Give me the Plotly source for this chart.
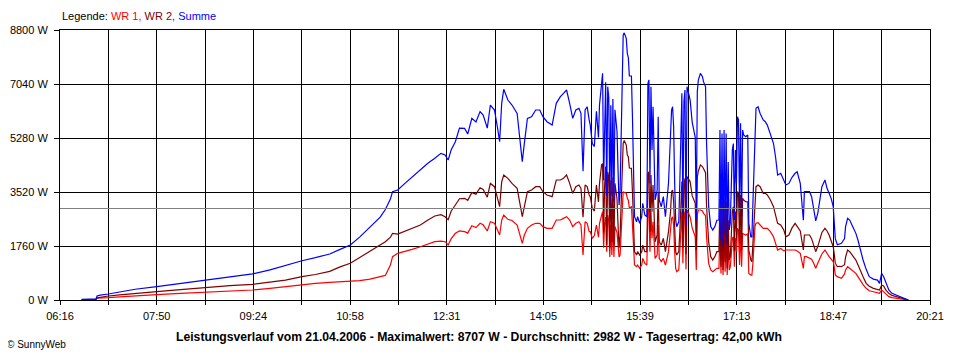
import plotly.graph_objects as go

# ---- data (minutes after midnight, power in W) ----
minutes = [
    397, 405, 411, 412, 415, 423, 434, 449, 470, 493, 517, 541, 563, 580, 595, 611, 624, 638,
    648, 658, 667, 677, 687, 692, 697, 699, 704, 711, 718, 726, 733, 740, 746, 750, 753, 756,
    760, 764, 769, 772, 776, 780, 784, 787, 791, 794, 798, 801, 803, 805, 807, 811, 815, 820,
    823, 825, 827, 830, 834, 838, 842, 845, 849, 854, 858, 862, 865, 868, 871, 874, 877, 880,
    882, 884, 886, 888, 890,
    891, 893, 895, 897, 899, 900, 902, 903, 904, 905, 906, 907, 908, 909, 910, 911, 912, 913,
    914, 915, 917, 918, 919, 920, 921, 922, 923, 924, 926, 927, 928, 929, 931, 932, 933, 934,
    936, 937, 939, 941, 942, 944, 946, 947, 948, 949, 950, 951, 952, 953, 954, 956, 957, 958,
    960, 962, 964, 967, 969, 970, 971, 972, 973, 974, 975, 977, 978, 979, 980, 981, 982, 983,
    984, 985, 988, 990, 991, 993, 994, 995, 996, 998, 1000, 1001, 1003, 1004, 1006, 1008, 1010,
    1012, 1014, 1016, 1017, 1018, 1019, 1020, 1021, 1022, 1023, 1024, 1025, 1026, 1027, 1028,
    1029, 1030, 1031, 1032, 1033, 1034, 1035, 1036, 1037, 1038, 1039, 1040, 1042, 1044, 1045,
    1047, 1048, 1049, 1051, 1052, 1054, 1056, 1059, 1061, 1063, 1066, 1069, 1071, 1073, 1076,
    1079, 1081, 1084, 1087, 1090, 1092,
    1095, 1098, 1099, 1101, 1103, 1104, 1106, 1108, 1110, 1112, 1114, 1116, 1119, 1121, 1123,
    1125, 1127, 1128, 1129, 1131, 1133, 1135, 1138, 1139, 1141, 1143, 1146, 1149, 1151, 1153,
    1156, 1159, 1162, 1166, 1170, 1172, 1174, 1176, 1178, 1181, 1184, 1188, 1192, 1196, 1200,
]

summe = [
    20, 30, 40, 130, 160, 195, 260, 350, 435, 540, 650, 760, 850, 980, 1130, 1280, 1380, 1500,
    1650, 1792, 2050, 2370, 2700, 2950, 3300, 3530, 3585, 3800, 4000, 4237, 4450, 4617, 4780, 4726, 4563, 4900,
    5160, 5600, 5594, 5410, 5920, 5800, 6140, 6030, 5600, 6355, 6192, 5600, 5160, 6410, 6866, 6518, 6355, 6083,
    5105, 4508, 5105, 5920, 5970, 6192, 6192, 5975, 5812, 5703, 6410, 6627, 6736, 6844, 6410, 5920, 6192, 6246,
    6083, 4200, 6192, 6300, 5866,
    5703, 5100, 5000, 6150, 5300, 6355, 7200, 7388, 3900, 6300, 7100, 3400, 6950, 6600, 3100, 6350, 3400, 6550,
    3200, 6200, 5500, 4250, 3100, 3560, 5540, 7820, 8630, 8707, 8530, 8040, 7900, 7300, 7300, 5970, 4450, 2715,
    2550, 2715, 2500, 2715, 3150, 2770, 2715, 7050, 7170, 3800, 6950, 4890, 6300, 4230, 3260, 3580, 5970, 3260,
    3040, 3370, 2715, 3800, 5100, 6190, 6300, 5650, 3800, 2607, 2390, 2550, 3800, 5100, 6736, 2800, 6465, 6845,
    2400, 6950, 6520, 5800, 5600, 5300, 2600, 6800, 7170, 7388, 7280, 7115, 6950, 5100, 3050, 2390, 2281,
    2390, 2600, 2607, 5540, 1950, 5430, 1740, 5540, 2170, 5430, 1846, 4500, 2281, 2500, 3585,
    4889, 5100, 2607, 4889, 3800, 5975, 5870, 2933, 5760, 2716, 5540, 5380, 5320, 5380, 2500,
    2060, 2060, 3150, 5760, 6247, 6300, 6080, 5870, 5810, 5700, 5430, 5100, 4660, 4074, 4130,
    3900, 3748, 3800, 4000, 4130, 4180,
    3800, 2600, 3530, 3530, 3530, 3530, 3368, 3000, 2580, 2826, 3250, 3693, 3911, 3640, 3477,
    3314, 3041, 2607, 2000, 1800, 1820, 1850, 2000, 2390, 2660, 2607, 2390, 2172, 1955, 1690,
    1303, 1000, 760, 680, 650, 543, 868, 760, 597, 326, 217, 163, 110, 54, 0,
]

wr2 = [
    10, 15, 20, 70, 90, 130, 170, 220, 270, 340, 414, 470, 510, 580, 650, 760, 830, 935,
    1080, 1196, 1380, 1580, 1800, 1900, 2050, 2173, 2150, 2250, 2330, 2444, 2600, 2738, 2780, 2715, 2620, 2900,
    3096, 3300, 3314, 3250, 3500, 3450, 3660, 3600, 3350, 3800, 3694, 3300, 3041, 3850, 4074, 3965, 3800, 3640,
    3150, 2715, 3041, 3530, 3585, 3694, 3694, 3530, 3422, 3368, 3911, 3911, 3965, 4074, 3800, 3477, 3694, 3748,
    3640, 2700, 3750, 3694, 3422,
    3368, 2988, 2900, 3750, 3200, 3800, 4400, 4450, 2200, 3750, 4350, 1800, 4180, 4000, 1700, 3900, 1900, 4000,
    1800, 3800, 3300, 2444, 1700, 2100, 3314, 4617, 5105, 5200, 5050, 4726, 4670, 4300, 4290, 3530, 2660, 1575,
    1466, 1575, 1466, 1575, 1790, 1575, 1575, 4100, 4180, 2227, 4074, 2880, 3750, 2444, 1900, 2118, 3530, 1900,
    1790, 2010, 1575, 2227, 2880, 3530, 3585, 3204, 2227, 1575, 1466, 1575, 2227, 2880, 3860, 1700, 3750, 3965,
    1500, 4020, 3860, 3400, 3300, 3150, 1629, 4000, 4200, 4400, 4350, 4290, 4150, 3050, 1900, 1412, 1303,
    1412, 1575, 1575, 3300, 1086, 3200, 977, 3300, 1250, 3204, 1032, 2600, 1303, 1412, 2100,
    2880, 3041, 1600, 2880, 2227, 3530, 3477, 1846, 3420, 1629, 3314, 3260, 3204, 3200, 1629,
    1303, 1250, 1846, 3420, 3694, 3748, 3694, 3477, 3477, 3422, 3260, 3041, 2716, 2500, 2444,
    2280, 2060, 2118, 2350, 2500, 2400,
    2250, 1629, 2118, 2118, 2118, 2118, 2000, 1800, 1575, 1750, 1955, 2200, 2336, 2250, 2118,
    1950, 1737, 1500, 1200, 1086, 1100, 1086, 1150, 1400, 1629, 1575, 1450, 1303, 1150, 977,
    760, 543, 450, 380, 350, 326, 480, 456, 330, 217, 150, 110, 70, 33, 0,
]

wr1 = [
    10, 15, 20, 60, 70, 75, 100, 140, 175, 215, 250, 290, 326, 380, 440, 480, 540, 577,
    590, 597, 630, 680, 750, 800, 1150, 1411, 1520, 1580, 1650, 1737, 1830, 1900, 1920, 1900, 1792, 2000,
    2173, 2250, 2227, 2180, 2420, 2360, 2500, 2450, 2250, 2553, 2500, 2300, 2118, 2600, 2770, 2630, 2590, 2444,
    2118, 1846, 2118, 2336, 2444, 2500, 2500, 2390, 2336, 2336, 2607, 2607, 2660, 2715, 2607, 2390, 2500, 2553,
    2444, 1470, 2553, 2500, 2227,
    2227, 2010, 2100, 2444, 2050, 2500, 2770, 2880, 1700, 2500, 2700, 1575, 2770, 2600, 1400, 2450, 1466, 2550,
    1400, 2400, 2200, 1790, 1400, 1466, 2227, 3204, 3530, 3507, 3480, 3314, 3250, 3000, 3041, 2444, 1790, 1140,
    1086, 1140, 1032, 1140, 1357, 1195, 1140, 2950, 2988, 1575, 2880, 2010, 2553, 1790, 1357, 1466, 2444, 1357,
    1250, 1357, 1140, 1575, 2227, 2660, 2715, 2444, 1575, 1032, 923, 977, 1575, 2227, 2880, 1195, 2715, 2880,
    1000, 2933, 2715, 2350, 2250, 2060, 977, 2780, 2933, 2933, 2900, 2825, 2750, 2050, 1195, 977, 923,
    977, 1032, 1032, 2227, 868, 2200, 814, 2227, 923, 2118, 814, 1800, 977, 1086, 1466,
    2010, 2060, 1086, 2010, 1575, 2336, 2281, 1140, 2281, 1086, 2172, 2150, 2118, 2150, 868,
    814, 814, 1195, 2390, 2500, 2520, 2444, 2336, 2336, 2336, 2227, 2060, 1846, 1629, 1680,
    1600, 1629, 1629, 1650, 1629, 1600,
    1520, 1032, 1412, 1412, 1380, 1357, 1330, 1200, 1032, 1200, 1357, 1500, 1629, 1500, 1412,
    1330, 1249, 1080, 820, 760, 720, 705, 850, 980, 1086, 1032, 950, 868, 760, 650,
    500, 380, 300, 270, 240, 217, 330, 270, 220, 110, 80, 54, 40, 20, 0,
]

y_ticks = [0, 1760, 3520, 5280, 7040, 8800]
y_labels = [f"{v} W" for v in y_ticks]
x_labels = ["06:16", "07:50", "09:24", "10:58", "12:31", "14:05", "15:39", "17:13", "18:47", "20:21"]
average_w = 2982
footer = ("Leistungsverlauf vom 21.04.2006 - Maximalwert: 8707 W - Durchschnitt: 2982 W"
          " - Tagesertrag: 42,00 kWh")

# ---- helpers ----
def to_min(s):
    h, m = s.split(":")
    return int(h) * 60 + int(m)

x0 = to_min(x_labels[0])
x1 = to_min(x_labels[-1])
step = (x1 - x0) / (len(x_labels) - 1)
tickvals = [x0 + i * step / 2 for i in range(2 * (len(x_labels) - 1) + 1)]
ticktext = [x_labels[i // 2] if i % 2 == 0 else "" for i in range(len(tickvals))]

FONT = "Liberation Sans, Arial, sans-serif"

fig = go.Figure()
fig.add_trace(go.Scatter(x=minutes, y=wr1, mode="lines", name="WR 1",
                         line=dict(color="#FF0000", width=1.2)))
fig.add_trace(go.Scatter(x=minutes, y=wr2, mode="lines", name="WR 2",
                         line=dict(color="#800000", width=1.2)))
fig.add_trace(go.Scatter(x=minutes, y=summe, mode="lines", name="Summe",
                         line=dict(color="#0000FF", width=1.2)))

fig.add_hline(y=average_w, line=dict(color="#808080", width=1), layer="above")

# page body has an 8px default margin, so the figure is sized to fit inside it
fig.update_layout(
    width=944, height=344,
    margin=dict(l=52, r=22, t=22, b=52, autoexpand=False),
    paper_bgcolor="white", plot_bgcolor="white",
    showlegend=False, hovermode=False,
    font=dict(family=FONT, size=11, color="black"),
    xaxis=dict(range=[x0, x1], tickmode="array", tickvals=tickvals, ticktext=ticktext,
               showgrid=True, gridcolor="black", gridwidth=1, automargin=False,
               showline=True, linecolor="black", linewidth=1, mirror=True,
               ticks="outside", ticklen=4, tickcolor="black", tickwidth=1,
               zeroline=False, ticklabelstandoff=2,
               tickfont=dict(family=FONT, size=11, color="black")),
    yaxis=dict(range=[y_ticks[0], y_ticks[-1]], tickmode="array", tickvals=y_ticks,
               ticktext=y_labels, automargin=False,
               showgrid=True, gridcolor="black", gridwidth=1,
               showline=True, linecolor="black", linewidth=1, mirror=True,
               ticks="outside", ticklen=5, tickcolor="black", tickwidth=1,
               zeroline=False, ticklabelstandoff=4,
               tickfont=dict(family=FONT, size=11, color="black")),
    annotations=[
        dict(xref="paper", yref="paper", x=0, y=1.052, xanchor="left", yanchor="middle",
             showarrow=False, font=dict(family=FONT, size=11, color="black"),
             text=("Legende: <span style='color:#FF0000'>WR 1,</span> "
                   "<span style='color:#800000'>WR 2,</span> "
                   "<span style='color:#0000FF'>Summe</span>")),
        dict(xref="paper", yref="paper", x=0.4816, y=-0.137, xanchor="center", yanchor="middle",
             showarrow=False, font=dict(family=FONT, size=12.2, color="black"),
             text="<b>" + footer + "</b>"),
        dict(xref="paper", yref="paper", x=-0.063, y=-0.166, xanchor="left", yanchor="middle",
             showarrow=False, font=dict(family=FONT, size=10, color="black"),
             text="© SunnyWeb"),
    ],
)

fig.write_html("out.html")
